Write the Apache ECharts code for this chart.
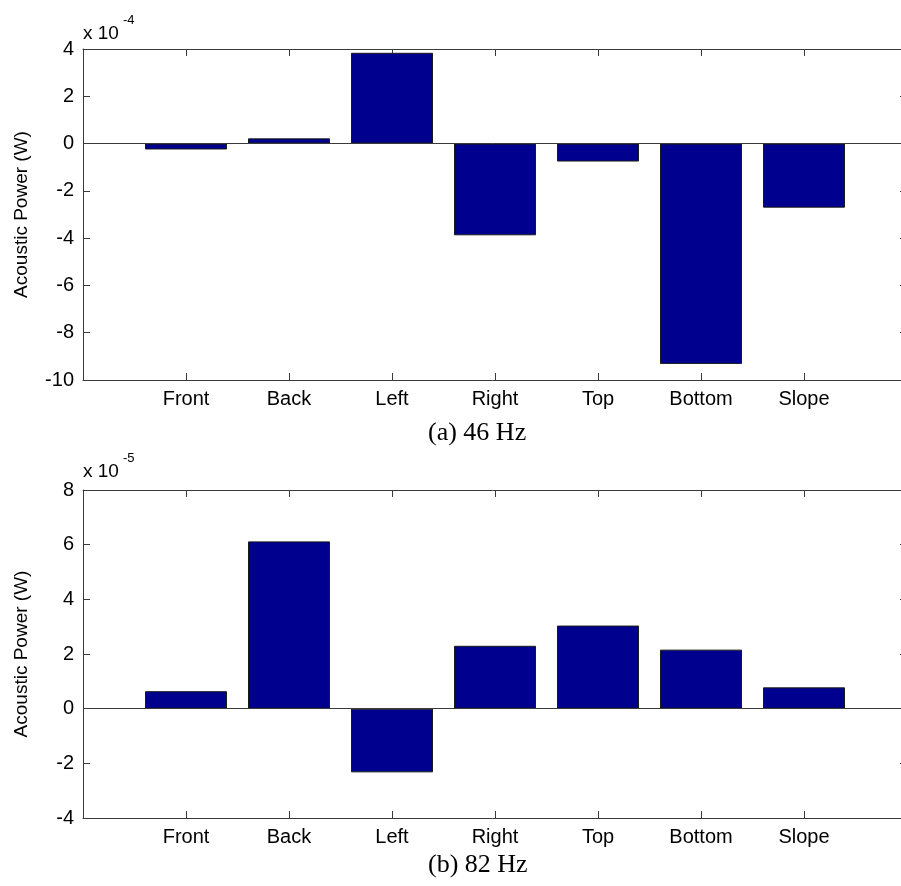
<!DOCTYPE html>
<html>
<head>
<meta charset="utf-8">
<script src="https://cdn.jsdelivr.net/npm/echarts@6/dist/echarts.min.js"></script>
<style>
  html, body { margin: 0; padding: 0; background: #fff; }
  #chart { width: 901px; height: 886px; }
</style>
</head>
<body>
<div id="chart"></div>
<script>
// face names, one bar each
const categories = ['Front', 'Back', 'Left', 'Right', 'Top', 'Bottom', 'Slope'];
// (a) 46 Hz, units of 1e-4 W
const power46 = [-0.25, 0.22, 3.84, -3.88, -0.76, -9.32, -2.71];
// (b) 82 Hz, units of 1e-5 W
const power82 = [0.64, 6.12, -2.33, 2.30, 3.04, 2.16, 0.78];
const yRange46 = [-10, 4];
const yRange82 = [-4, 8];

const font = "'Liberation Sans', Arial, sans-serif";
const frame = '#3a3a3a';
const barColor = '#00008f';

// plot frame runs a little past the right edge of the page, as in the source figure
const grids = [
  { left: 83, top: 49, width: 824, height: 331, outerBoundsMode: 'none', containLabel: false },
  { left: 83, top: 490, width: 824, height: 328, outerBoundsMode: 'none', containLabel: false }
];

function xAxes(gi) {
  const base = {
    type: 'value', gridIndex: gi, min: 0, max: 8, interval: 1,
    axisLine: { show: true, onZero: false, lineStyle: { color: frame, width: 1 } },
    axisTick: { show: true, inside: true, length: 7, lineStyle: { color: frame } },
    splitLine: { show: false }
  };
  return [
    Object.assign({}, base, {
      position: 'bottom',
      axisLabel: {
        show: true, margin: 9, fontSize: 20, color: '#000', fontFamily: font,
        formatter: v => (v >= 1 && v <= categories.length) ? categories[v - 1] : ''
      }
    }),
    Object.assign({}, base, { position: 'top', axisLabel: { show: false } })
  ];
}

function yAxes(gi, range) {
  const base = {
    type: 'value', gridIndex: gi, min: range[0], max: range[1], interval: 2,
    axisLine: { show: true, onZero: false, lineStyle: { color: frame, width: 1 } },
    axisTick: { show: true, inside: true, length: 7, lineStyle: { color: frame } },
    splitLine: { show: false }
  };
  return [
    Object.assign({}, base, {
      position: 'left',
      name: 'Acoustic Power (W)', nameLocation: 'middle', nameGap: 52, nameRotate: 90,
      nameTextStyle: { fontSize: 19, color: '#000', fontFamily: font },
      axisLabel: { show: true, margin: 9, fontSize: 20, color: '#000', fontFamily: font }
    }),
    Object.assign({}, base, { position: 'right', axisLabel: { show: false } })
  ];
}

function barSeries(xi, yi, values) {
  return {
    type: 'bar', xAxisIndex: xi, yAxisIndex: yi,
    data: values.map((v, i) => [i + 1, v]),
    barWidth: 82,
    itemStyle: { color: barColor, borderColor: '#1a1a1a', borderWidth: 1 },
    markLine: {
      silent: true, symbol: 'none', label: { show: false },
      lineStyle: { color: frame, type: 'solid', width: 1 },
      data: [{ yAxis: 0 }]
    },
    animation: false
  };
}

function expText(x, y, base, exp) {
  return [
    { type: 'text', left: x, top: y, style: { text: base, fontSize: 19, fill: '#000', fontFamily: font } },
    { type: 'text', left: x + 40, top: y - 10, style: { text: exp, fontSize: 13, fill: '#000', fontFamily: font } }
  ];
}

function caption(y, text) {
  return {
    type: 'text', left: 428, top: y,
    style: {
      text: text, fontSize: 26, fill: '#000',
      fontFamily: "'Liberation Serif', 'Times New Roman', serif"
    }
  };
}

const chart = echarts.init(document.getElementById('chart'));
chart.setOption({
  animation: false,
  backgroundColor: '#fff',
  grid: grids,
  xAxis: xAxes(0).concat(xAxes(1)),
  yAxis: yAxes(0, yRange46).concat(yAxes(1, yRange82)),
  series: [
    barSeries(0, 0, power46),
    barSeries(2, 2, power82)
  ],
  graphic: [
    ...expText(83, 24, 'x 10', '-4'),
    ...expText(83, 462, 'x 10', '-5'),
    caption(420, '(a) 46 Hz'),
    caption(852, '(b) 82 Hz')
  ]
});
</script>
</body>
</html>
